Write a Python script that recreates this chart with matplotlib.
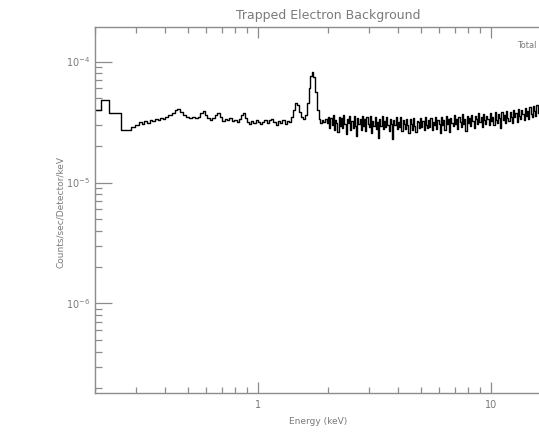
import numpy as np
import matplotlib
matplotlib.use("Agg")
import matplotlib.pyplot as plt
from matplotlib.ticker import LogLocator, NullFormatter, FixedLocator, FixedFormatter

# ---- data (values in units of 1e-5 counts) ----
low_energy = [0.197, 0.211, 0.229, 0.257, 0.284, 0.296, 0.308, 0.316, 0.324, 0.333,
              0.342, 0.351, 0.360, 0.370, 0.380, 0.390, 0.400, 0.412, 0.425, 0.438,
              0.450, 0.462, 0.475, 0.490, 0.505, 0.520, 0.535, 0.550, 0.565, 0.578,
              0.590, 0.605, 0.620, 0.635, 0.650, 0.668, 0.685, 0.703, 0.720, 0.735,
              0.750, 0.770, 0.790, 0.810, 0.830, 0.845, 0.860, 0.880, 0.900, 0.915,
              0.935, 0.955, 0.977, 1.000, 1.020, 1.043, 1.065, 1.090, 1.110, 1.134,
              1.160, 1.191, 1.215, 1.245, 1.272, 1.300, 1.330, 1.359, 1.390, 1.420,
              1.445, 1.475, 1.505, 1.535, 1.560, 1.590, 1.620, 1.650, 1.680, 1.705,
              1.730, 1.760, 1.790, 1.820, 1.850, 1.880, 1.910, 1.940, 1.970]
low_counts = [3.97, 4.81, 3.75, 2.72, 2.87, 2.99, 3.16, 3.04, 3.22, 3.10,
              3.29, 3.22, 3.35, 3.29, 3.41, 3.35, 3.48, 3.61, 3.75, 3.97,
              4.05, 3.83, 3.61, 3.48, 3.41, 3.48, 3.41, 3.48, 3.75, 3.90,
              3.61, 3.41, 3.29, 3.41, 3.61, 3.75, 3.48, 3.22, 3.35, 3.29,
              3.41, 3.22, 3.29, 3.16, 3.35, 3.61, 3.75, 3.41, 3.16, 3.04,
              3.22, 3.10, 3.29, 3.16, 3.04, 3.16, 3.29, 3.10, 3.29, 3.35,
              3.16, 2.99, 3.22, 3.10, 3.29, 3.04, 3.22, 3.16, 3.48, 3.97,
              4.54, 4.37, 3.83, 3.48, 3.35, 3.61, 4.50, 6.00, 7.60, 8.19,
              7.50, 5.60, 4.00, 3.35, 3.10, 3.29, 3.16, 3.35, 3.10]

high_energy = [2.000, 2.023, 2.047, 2.070, 2.094, 2.118, 2.143, 2.168, 2.193, 2.218,
               2.244, 2.270, 2.296, 2.323, 2.350, 2.377, 2.405, 2.433, 2.461, 2.489,
               2.518, 2.547, 2.576, 2.606, 2.636, 2.667, 2.698, 2.729, 2.760, 2.792,
               2.825, 2.858, 2.891, 2.924, 2.958, 2.992, 3.027, 3.062, 3.097, 3.133,
               3.170, 3.206, 3.243, 3.281, 3.319, 3.357, 3.396, 3.436, 3.475, 3.516,
               3.557, 3.598, 3.639, 3.682, 3.724, 3.767, 3.811, 3.855, 3.900, 3.945,
               3.991, 4.037, 4.084, 4.131, 4.179, 4.227, 4.276, 4.326, 4.376, 4.426,
               4.477, 4.529, 4.582, 4.635, 4.688, 4.742, 4.797, 4.853, 4.909, 4.966,
               5.024, 5.082, 5.141, 5.200, 5.260, 5.321, 5.383, 5.445, 5.508, 5.572,
               5.637, 5.702, 5.768, 5.835, 5.902, 5.971, 6.040, 6.110, 6.180, 6.252,
               6.325, 6.398, 6.472, 6.547, 6.623, 6.700, 6.777, 6.856, 6.935, 7.015,
               7.096, 7.178, 7.262, 7.346, 7.431, 7.517, 7.604, 7.692, 7.781, 7.871,
               7.962, 8.054, 8.148, 8.242, 8.337, 8.434, 8.532, 8.630, 8.730, 8.831,
               8.934, 9.037, 9.142, 9.248, 9.355, 9.463, 9.572, 9.683, 9.795, 9.909,
               10.02, 10.14, 10.26, 10.38, 10.50, 10.62, 10.74, 10.86, 10.99, 11.12,
               11.25, 11.38, 11.51, 11.64, 11.78, 11.91, 12.05, 12.19, 12.33, 12.48,
               12.62, 12.77, 12.91, 13.06, 13.21, 13.37, 13.52, 13.68, 13.84, 14.00,
               14.16, 14.32, 14.49, 14.66, 14.83, 15.00, 15.17, 15.35, 15.52, 15.70,
               15.89, 16.07, 16.26, 16.44, 16.63, 16.83, 17.02, 17.22, 17.42, 17.62,
               17.82, 18.03, 18.24, 18.45, 18.66, 18.88, 19.10, 19.32, 19.54, 19.77,
               20.00]
high_counts = [3.50, 2.80, 3.40, 3.00, 3.60, 2.70, 3.30, 3.10, 2.60, 3.50,
               2.92, 3.42, 2.82, 3.62, 3.02, 2.52, 3.32, 3.12, 3.52, 2.72,
               3.22, 2.82, 3.52, 2.92, 2.42, 3.42, 3.02, 3.32, 2.72, 3.52,
               2.95, 3.35, 2.65, 3.45, 3.05, 2.85, 3.55, 2.55, 3.25, 2.95,
               3.45, 2.75, 3.15, 2.35, 3.35, 2.95, 3.55, 2.75, 3.25, 2.85,
               3.47, 2.97, 2.67, 3.37, 3.07, 2.27, 3.27, 2.97, 3.47, 2.77,
               3.17, 2.87, 3.47, 2.67, 3.27, 3.07, 2.77, 3.37, 2.97, 2.57,
               3.34, 3.04, 2.74, 3.44, 2.94, 2.64, 3.24, 3.14, 2.84, 3.44,
               2.90, 3.20, 2.70, 3.50, 3.00, 2.80, 3.30, 2.90, 3.40, 2.70,
               3.17, 2.97, 3.47, 2.77, 3.27, 3.07, 2.57, 3.47, 2.97, 3.27,
               2.72, 3.52, 3.02, 3.32, 2.62, 3.42, 3.12, 2.92, 3.62, 3.02,
               3.36, 2.76, 3.46, 3.16, 2.86, 3.66, 3.06, 3.36, 2.66, 3.56,
               3.12, 3.42, 2.92, 3.62, 3.22, 2.82, 3.52, 3.32, 3.02, 3.72,
               3.17, 3.47, 2.87, 3.67, 3.27, 3.07, 3.57, 3.37, 2.97, 3.77,
               3.21, 3.51, 3.01, 3.81, 3.31, 3.11, 3.71, 3.41, 2.81, 3.81,
               3.30, 3.60, 3.10, 3.90, 3.40, 3.20, 3.80, 3.50, 3.10, 4.00,
               3.46, 3.76, 3.16, 4.06, 3.56, 3.36, 3.96, 3.66, 3.26, 4.16,
               3.57, 3.87, 3.37, 4.17, 3.67, 3.47, 4.27, 3.87, 3.57, 4.37,
               3.77, 4.07, 3.57, 4.37, 3.87, 4.17, 3.67, 4.47, 3.97, 4.27,
               3.72, 4.42, 3.92, 4.22, 3.82, 4.52, 4.02, 4.32, 3.92, 4.62,
               4.22]

count_unit = 1e-5
y_ticks = [1e-6, 1e-5, 1e-4]
y_tick_labels = [r"$10^{-6}$", r"$10^{-5}$", r"$10^{-4}$"]
x_ticks = [1, 10]
x_tick_labels = ["1", "10"]

energy = np.array(low_energy + high_energy)
counts = np.array(low_counts + high_counts) * count_unit

# ---- figure ----
W, H = 539, 433
fig = plt.figure(figsize=(W / 100, H / 100), dpi=100)
left, right, top, bottom = 95.4, 560.8, 27, 393
ax = fig.add_axes([left / W, 1 - bottom / H, (right - left) / W, (bottom - top) / H])

gray = "#8c8c8c"
txt = "#7a7a7a"

ax.step(energy, counts, where="post", color="black", lw=1.0)

ax.set_xscale("log")
ax.set_yscale("log")
ax.set_xlim(0.2, 20)
ax.set_ylim(1.82e-7, 1.93e-4)

ax.xaxis.set_major_locator(FixedLocator(x_ticks))
ax.xaxis.set_major_formatter(FixedFormatter(x_tick_labels))
ax.xaxis.set_minor_locator(LogLocator(base=10, subs=np.arange(2, 10)))
ax.xaxis.set_minor_formatter(NullFormatter())
ax.yaxis.set_major_locator(FixedLocator(y_ticks))
ax.yaxis.set_major_formatter(FixedFormatter(y_tick_labels))
ax.yaxis.set_minor_locator(LogLocator(base=10, subs=np.arange(2, 10)))
ax.yaxis.set_minor_formatter(NullFormatter())

for s in ax.spines.values():
    s.set_color(gray)
    s.set_linewidth(1.0)
ax.spines["right"].set_visible(False)

ax.tick_params(axis="both", which="both", direction="in", top=True, right=False,
               color=gray, labelcolor=txt, labelsize=7, width=0.9)
ax.tick_params(axis="x", which="major", length=8, pad=5)
ax.tick_params(axis="x", which="minor", length=4)
ax.tick_params(axis="y", which="major", length=12, pad=4)
ax.tick_params(axis="y", which="minor", length=5)

fig.text(328 / W, 1 - 15 / H, "Trapped Electron Background", ha="center", va="center",
         fontsize=9, color=txt)
fig.text(318 / W, 1 - 421 / H, "Energy (keV)", ha="center", va="center",
         fontsize=6.5, color=txt)
fig.text(60 / W, 1 - 212 / H, "Counts/sec/Detector/keV", ha="center", va="center",
         rotation=90, fontsize=6.5, color=txt)
fig.text(537 / W, 1 - 45 / H, "Total", ha="right", va="center", fontsize=6, color=txt)

fig.savefig("out.png", dpi=100)
